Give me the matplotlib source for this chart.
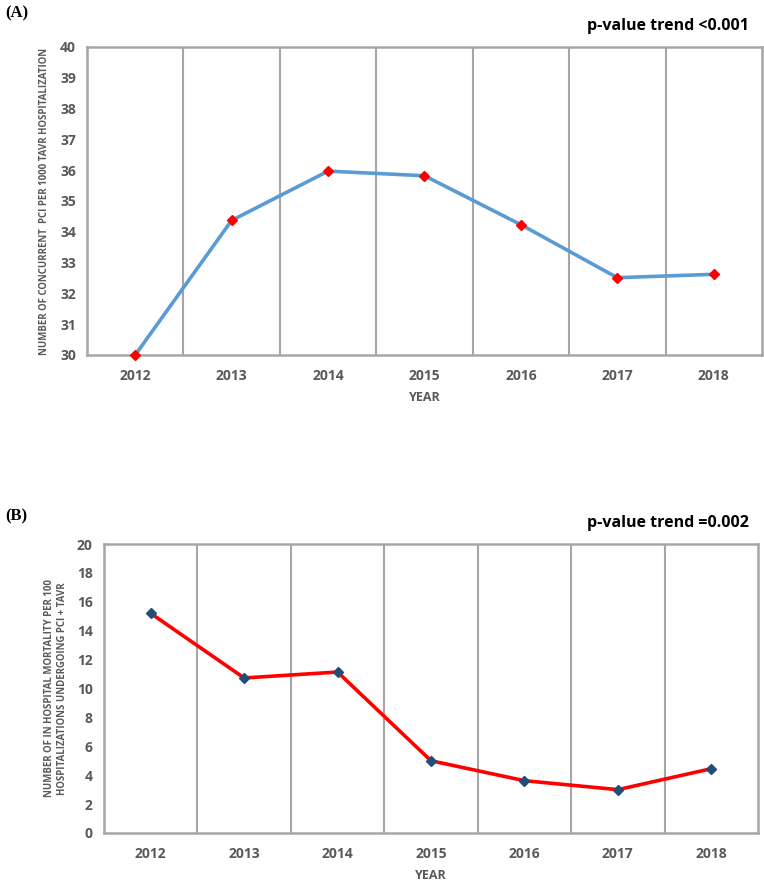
import matplotlib
matplotlib.use("Agg")
import matplotlib.pyplot as plt

years = ["2012", "2013", "2014", "2015", "2016", "2017", "2018"]
pci_rate = [30.0, 34.37, 35.97, 35.82, 34.23, 32.51, 32.62]
mortality = [15.2, 10.73, 11.14, 5.0, 3.62, 3.0, 4.45]
yticks_a = [30, 31, 32, 33, 34, 35, 36, 37, 38, 39, 40]
yticks_b = [0, 2, 4, 6, 8, 10, 12, 14, 16, 18, 20]

W, H = 764, 882
fig = plt.figure(figsize=(W / 100, H / 100), dpi=100)

GRAY = "#595959"
FRAME = "#A6A6A6"
FONT = "Open Sans"


def make_axes(l, t, r, b):
    return fig.add_axes([l / W, 1 - b / H, (r - l) / W, (b - t) / H])


def style(ax, ylim, yticks, ylabel, lab_x):
    x = list(range(len(years)))
    ax.set_xlim(-0.5, len(years) - 0.5)
    ax.set_ylim(*ylim)
    ax.set_yticks(yticks)
    ax.set_yticklabels([str(v) for v in yticks], fontsize=10, fontweight="bold",
                       color=GRAY, family=FONT)
    ax.set_xticks(x)
    ax.set_xticklabels(years, fontsize=10, fontweight="bold", color=GRAY, family=FONT)
    ax.tick_params(length=0, pad=8)
    ax.tick_params(axis="x", pad=10)
    for i in range(len(years) - 1):
        ax.axvline(i + 0.5, color=FRAME, lw=1.5, zorder=1)
    for s in ax.spines.values():
        s.set_color(FRAME)
        s.set_linewidth(1.8)
    ax.set_xlabel("YEAR", fontsize=9, fontweight="bold", color=GRAY, family=FONT,
                  labelpad=6)
    ax.set_ylabel(ylabel, fontsize=6.9, fontweight="bold", color=GRAY, family=FONT,
                  linespacing=1.2)
    ax.yaxis.set_label_coords(lab_x, 0.5)


# Panel A
axA = make_axes(87, 47, 762, 355)
xs = list(range(len(years)))
axA.plot(xs, pci_rate, color="#5B9BD5", lw=2.6, zorder=3, clip_on=False)
axA.plot(xs, pci_rate, ls="none", marker="D", ms=5.5, color="#FF0000", zorder=4,
         clip_on=False)
style(axA, (30, 40), yticks_a,
      "NUMBER OF CONCURRENT  PCI PER 1000 TAVR HOSPITALIZATION", -0.055)
fig.text(5 / W, 1 - 13 / H, "(A)", fontsize=12, fontweight="bold",
         family="Liberation Serif", va="center", ha="left")
fig.text(749 / W, 1 - 26 / H, "p-value trend <0.001", fontsize=11.5,
         fontweight="bold", family=FONT, va="center", ha="right")

# Panel B
axB = make_axes(104, 544, 758, 833)
axB.plot(xs, mortality, color="#FF0000", lw=2.6, zorder=3, clip_on=False)
axB.plot(xs, mortality, ls="none", marker="D", ms=5.5, color="#1F4E79", zorder=4,
         clip_on=False)
style(axB, (0, 20), yticks_b,
      "NUMBER OF IN HOSPITAL MORTALITY PER 100\nHOSPITALIZATIONS UNDERGOING PCI + TAVR",
      -0.055)
fig.text(5 / W, 1 - 516 / H, "(B)", fontsize=12, fontweight="bold",
         family="Liberation Serif", va="center", ha="left")
fig.text(749 / W, 1 - 523 / H, "p-value trend =0.002", fontsize=11.5,
         fontweight="bold", family=FONT, va="center", ha="right")

fig.savefig("out.png", dpi=100)
